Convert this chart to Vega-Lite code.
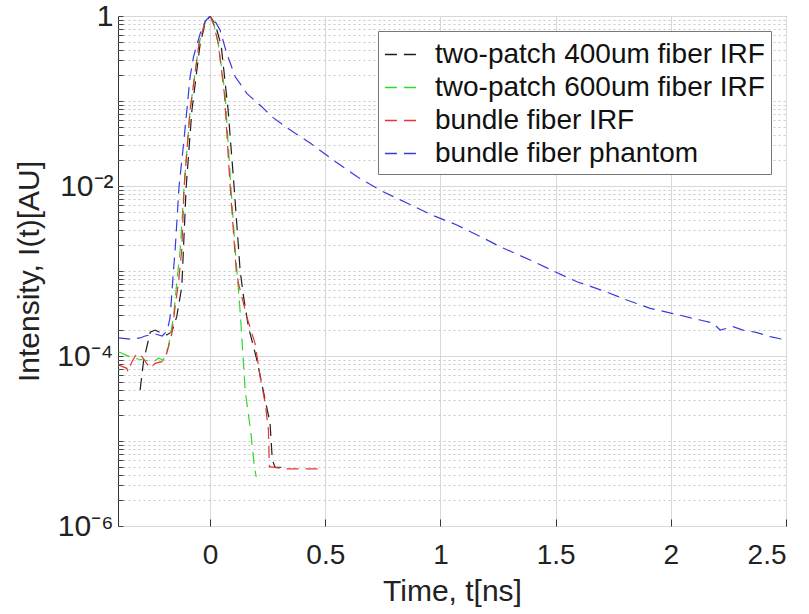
{
  "$schema": "https://vega.github.io/schema/vega-lite/v6.json",
  "width": 668,
  "height": 510,
  "autosize": {"type": "none"},
  "padding": {"left": 118, "top": 16, "right": 23, "bottom": 88},
  "background": "white",
  "config": {
    "font": "Liberation Sans",
    "view": {"stroke": "#333", "strokeWidth": 1},
    "axis": {"labelFont": "Liberation Sans", "titleFont": "Liberation Sans", "labelColor": "#222", "titleColor": "#222", "titleFontWeight": "normal", "domain": false}
  },
  "data": {"values": [
    {"s": "two-patch 400um fiber IRF", "t": -0.304, "I": 3.98e-5},
    {"s": "two-patch 400um fiber IRF", "t": -0.289, "I": 8.73e-5},
    {"s": "two-patch 400um fiber IRF", "t": -0.26, "I": 1.91e-4},
    {"s": "two-patch 400um fiber IRF", "t": -0.239, "I": 2.02e-4},
    {"s": "two-patch 400um fiber IRF", "t": -0.21, "I": 1.85e-4},
    {"s": "two-patch 400um fiber IRF", "t": -0.188, "I": 1.77e-4},
    {"s": "two-patch 400um fiber IRF", "t": -0.166, "I": 1.93e-4},
    {"s": "two-patch 400um fiber IRF", "t": -0.145, "I": 2.9e-4},
    {"s": "two-patch 400um fiber IRF", "t": -0.123, "I": 6.53e-4},
    {"s": "two-patch 400um fiber IRF", "t": -0.116, "I": 1.77e-3},
    {"s": "two-patch 400um fiber IRF", "t": -0.104, "I": 9.82e-3},
    {"s": "two-patch 400um fiber IRF", "t": -0.079, "I": 0.0783},
    {"s": "two-patch 400um fiber IRF", "t": -0.043, "I": 0.481},
    {"s": "two-patch 400um fiber IRF", "t": -0.02, "I": 0.85},
    {"s": "two-patch 400um fiber IRF", "t": 0, "I": 1},
    {"s": "two-patch 400um fiber IRF", "t": 0.022, "I": 0.8},
    {"s": "two-patch 400um fiber IRF", "t": 0.048, "I": 0.45},
    {"s": "two-patch 400um fiber IRF", "t": 0.078, "I": 0.0783},
    {"s": "two-patch 400um fiber IRF", "t": 0.104, "I": 9.82e-3},
    {"s": "two-patch 400um fiber IRF", "t": 0.13, "I": 1.03e-3},
    {"s": "two-patch 400um fiber IRF", "t": 0.145, "I": 4.99e-4},
    {"s": "two-patch 400um fiber IRF", "t": 0.166, "I": 2.21e-4},
    {"s": "two-patch 400um fiber IRF", "t": 0.203, "I": 8.97e-5},
    {"s": "two-patch 400um fiber IRF", "t": 0.239, "I": 3.03e-5},
    {"s": "two-patch 400um fiber IRF", "t": 0.26, "I": 1.63e-5},
    {"s": "two-patch 400um fiber IRF", "t": 0.27, "I": 5.97e-6},
    {"s": "two-patch 400um fiber IRF", "t": 0.282, "I": 4.91e-6},
    {"s": "two-patch 400um fiber IRF", "t": 0.326, "I": 4.91e-6},

    {"s": "two-patch 600um fiber IRF", "t": -0.398, "I": 1.12e-4},
    {"s": "two-patch 600um fiber IRF", "t": -0.333, "I": 9.4e-5},
    {"s": "two-patch 600um fiber IRF", "t": -0.289, "I": 8.97e-5},
    {"s": "two-patch 600um fiber IRF", "t": -0.246, "I": 8.57e-5},
    {"s": "two-patch 600um fiber IRF", "t": -0.224, "I": 9.4e-5},
    {"s": "two-patch 600um fiber IRF", "t": -0.203, "I": 8.97e-5},
    {"s": "two-patch 600um fiber IRF", "t": -0.181, "I": 1.29e-4},
    {"s": "two-patch 600um fiber IRF", "t": -0.159, "I": 2.9e-4},
    {"s": "two-patch 600um fiber IRF", "t": -0.145, "I": 7.16e-4},
    {"s": "two-patch 600um fiber IRF", "t": -0.13, "I": 1.77e-3},
    {"s": "two-patch 600um fiber IRF", "t": -0.113, "I": 9.82e-3},
    {"s": "two-patch 600um fiber IRF", "t": -0.087, "I": 0.0783},
    {"s": "two-patch 600um fiber IRF", "t": -0.048, "I": 0.481},
    {"s": "two-patch 600um fiber IRF", "t": -0.022, "I": 0.85},
    {"s": "two-patch 600um fiber IRF", "t": 0, "I": 1},
    {"s": "two-patch 600um fiber IRF", "t": 0.016, "I": 0.8},
    {"s": "two-patch 600um fiber IRF", "t": 0.035, "I": 0.481},
    {"s": "two-patch 600um fiber IRF", "t": 0.065, "I": 0.12},
    {"s": "two-patch 600um fiber IRF", "t": 0.09, "I": 9.82e-3},
    {"s": "two-patch 600um fiber IRF", "t": 0.109, "I": 1.77e-3},
    {"s": "two-patch 600um fiber IRF", "t": 0.132, "I": 2.9e-4},
    {"s": "two-patch 600um fiber IRF", "t": 0.141, "I": 1.18e-4},
    {"s": "two-patch 600um fiber IRF", "t": 0.152, "I": 3.98e-5},
    {"s": "two-patch 600um fiber IRF", "t": 0.177, "I": 1.23e-5},
    {"s": "two-patch 600um fiber IRF", "t": 0.192, "I": 4.99e-6},
    {"s": "two-patch 600um fiber IRF", "t": 0.2, "I": 3.77e-6},

    {"s": "bundle fiber IRF", "t": -0.398, "I": 7.83e-5},
    {"s": "bundle fiber IRF", "t": -0.38, "I": 7.5e-5},
    {"s": "bundle fiber IRF", "t": -0.362, "I": 7.16e-5},
    {"s": "bundle fiber IRF", "t": -0.356, "I": 6.53e-5},
    {"s": "bundle fiber IRF", "t": -0.34, "I": 8.5e-5},
    {"s": "bundle fiber IRF", "t": -0.318, "I": 1.08e-4},
    {"s": "bundle fiber IRF", "t": -0.296, "I": 9.82e-5},
    {"s": "bundle fiber IRF", "t": -0.26, "I": 7.16e-5},
    {"s": "bundle fiber IRF", "t": -0.239, "I": 8.2e-5},
    {"s": "bundle fiber IRF", "t": -0.21, "I": 8.57e-5},
    {"s": "bundle fiber IRF", "t": -0.188, "I": 1.08e-4},
    {"s": "bundle fiber IRF", "t": -0.166, "I": 1.85e-4},
    {"s": "bundle fiber IRF", "t": -0.152, "I": 3.8e-4},
    {"s": "bundle fiber IRF", "t": -0.138, "I": 7.16e-4},
    {"s": "bundle fiber IRF", "t": -0.123, "I": 1.77e-3},
    {"s": "bundle fiber IRF", "t": -0.113, "I": 9.82e-3},
    {"s": "bundle fiber IRF", "t": -0.087, "I": 0.0783},
    {"s": "bundle fiber IRF", "t": -0.048, "I": 0.481},
    {"s": "bundle fiber IRF", "t": -0.022, "I": 0.85},
    {"s": "bundle fiber IRF", "t": 0, "I": 1},
    {"s": "bundle fiber IRF", "t": 0.015, "I": 0.8},
    {"s": "bundle fiber IRF", "t": 0.035, "I": 0.481},
    {"s": "bundle fiber IRF", "t": 0.062, "I": 0.12},
    {"s": "bundle fiber IRF", "t": 0.087, "I": 9.82e-3},
    {"s": "bundle fiber IRF", "t": 0.113, "I": 1.03e-3},
    {"s": "bundle fiber IRF", "t": 0.123, "I": 7.16e-4},
    {"s": "bundle fiber IRF", "t": 0.159, "I": 2.9e-4},
    {"s": "bundle fiber IRF", "t": 0.181, "I": 1.85e-4},
    {"s": "bundle fiber IRF", "t": 0.195, "I": 1.41e-4},
    {"s": "bundle fiber IRF", "t": 0.217, "I": 5.7e-5},
    {"s": "bundle fiber IRF", "t": 0.239, "I": 2.78e-5},
    {"s": "bundle fiber IRF", "t": 0.253, "I": 1.35e-5},
    {"s": "bundle fiber IRF", "t": 0.257, "I": 4.99e-6},
    {"s": "bundle fiber IRF", "t": 0.326, "I": 4.69e-6},
    {"s": "bundle fiber IRF", "t": 0.473, "I": 4.69e-6},

    {"s": "bundle fiber phantom", "t": -0.399, "I": 1.63e-4},
    {"s": "bundle fiber phantom", "t": -0.347, "I": 1.58e-4},
    {"s": "bundle fiber phantom", "t": -0.304, "I": 1.63e-4},
    {"s": "bundle fiber phantom", "t": -0.282, "I": 1.72e-4},
    {"s": "bundle fiber phantom", "t": -0.239, "I": 1.82e-4},
    {"s": "bundle fiber phantom", "t": -0.208, "I": 1.72e-4},
    {"s": "bundle fiber phantom", "t": -0.187, "I": 1.97e-4},
    {"s": "bundle fiber phantom", "t": -0.174, "I": 2.8e-4},
    {"s": "bundle fiber phantom", "t": -0.159, "I": 1.03e-3},
    {"s": "bundle fiber phantom", "t": -0.152, "I": 1.77e-3},
    {"s": "bundle fiber phantom", "t": -0.135, "I": 9.82e-3},
    {"s": "bundle fiber phantom", "t": -0.115, "I": 0.0321},
    {"s": "bundle fiber phantom", "t": -0.101, "I": 0.0783},
    {"s": "bundle fiber phantom", "t": -0.087, "I": 0.193},
    {"s": "bundle fiber phantom", "t": -0.072, "I": 0.332},
    {"s": "bundle fiber phantom", "t": -0.043, "I": 0.625},
    {"s": "bundle fiber phantom", "t": -0.02, "I": 0.88},
    {"s": "bundle fiber phantom", "t": 0, "I": 1},
    {"s": "bundle fiber phantom", "t": 0.02, "I": 0.88},
    {"s": "bundle fiber phantom", "t": 0.043, "I": 0.684},
    {"s": "bundle fiber phantom", "t": 0.072, "I": 0.364},
    {"s": "bundle fiber phantom", "t": 0.109, "I": 0.193},
    {"s": "bundle fiber phantom", "t": 0.13, "I": 0.16},
    {"s": "bundle fiber phantom", "t": 0.159, "I": 0.123},
    {"s": "bundle fiber phantom", "t": 0.224, "I": 0.0857},
    {"s": "bundle fiber phantom", "t": 0.268, "I": 0.0654},
    {"s": "bundle fiber phantom", "t": 0.326, "I": 0.0499},
    {"s": "bundle fiber phantom", "t": 0.434, "I": 0.0321},
    {"s": "bundle fiber phantom", "t": 0.534, "I": 0.0202},
    {"s": "bundle fiber phantom", "t": 0.637, "I": 0.0129},
    {"s": "bundle fiber phantom", "t": 0.751, "I": 8.57e-3},
    {"s": "bundle fiber phantom", "t": 0.854, "I": 6.31e-3},
    {"s": "bundle fiber phantom", "t": 0.962, "I": 4.56e-3},
    {"s": "bundle fiber phantom", "t": 1.071, "I": 3.48e-3},
    {"s": "bundle fiber phantom", "t": 1.185, "I": 2.45e-3},
    {"s": "bundle fiber phantom", "t": 1.259, "I": 1.93e-3},
    {"s": "bundle fiber phantom", "t": 1.389, "I": 1.35e-3},
    {"s": "bundle fiber phantom", "t": 1.497, "I": 9.82e-4},
    {"s": "bundle fiber phantom", "t": 1.592, "I": 7.48e-4},
    {"s": "bundle fiber phantom", "t": 1.706, "I": 5.86e-4},
    {"s": "bundle fiber phantom", "t": 1.809, "I": 4.56e-4},
    {"s": "bundle fiber phantom", "t": 1.91, "I": 3.64e-4},
    {"s": "bundle fiber phantom", "t": 2.004, "I": 3.18e-4},
    {"s": "bundle fiber phantom", "t": 2.127, "I": 2.65e-4},
    {"s": "bundle fiber phantom", "t": 2.183, "I": 2.44e-4},
    {"s": "bundle fiber phantom", "t": 2.214, "I": 2.02e-4},
    {"s": "bundle fiber phantom", "t": 2.27, "I": 2.21e-4},
    {"s": "bundle fiber phantom", "t": 2.313, "I": 2.02e-4},
    {"s": "bundle fiber phantom", "t": 2.37, "I": 1.9e-4},
    {"s": "bundle fiber phantom", "t": 2.431, "I": 1.69e-4},
    {"s": "bundle fiber phantom", "t": 2.5, "I": 1.54e-4}
  ]},
  "mark": {"type": "line", "strokeWidth": 1.2, "strokeDash": [12, 7], "clip": true},
  "encoding": {
    "x": {
      "field": "t", "type": "quantitative",
      "scale": {"domain": [-0.4, 2.5], "nice": false, "zero": false},
      "axis": {
        "values": [0, 0.5, 1, 1.5, 2, 2.5], "format": "~g",
        "title": "Time, t[ns]", "labelFontSize": 28, "titleFontSize": 30,
        "tickSize": -7, "tickColor": "#333", "labelPadding": 22, "titlePadding": 7,
        "gridColor": "#d8d8d8", "labelOverlap": false
      }
    },
    "y": {
      "field": "I", "type": "quantitative",
      "scale": {"type": "log", "domain": [1e-6, 1], "nice": false},
      "axis": {
        "values": [1e-6,2e-6,3e-6,4e-6,5e-6,6e-6,7e-6,8e-6,9e-6,
                   1e-5,2e-5,3e-5,4e-5,5e-5,6e-5,7e-5,8e-5,9e-5,
                   1e-4,2e-4,3e-4,4e-4,5e-4,6e-4,7e-4,8e-4,9e-4,
                   1e-3,2e-3,3e-3,4e-3,5e-3,6e-3,7e-3,8e-3,9e-3,
                   0.01,0.02,0.03,0.04,0.05,0.06,0.07,0.08,0.09,
                   0.1,0.2,0.3,0.4,0.5,0.6,0.7,0.8,0.9,1],
        "labelExpr": "datum.value == 1 ? '1' : datum.value == 0.01 ? '10⁻²' : datum.value == 0.0001 ? '10⁻⁴' : datum.value == 0.000001 ? '10⁻⁶' : ''",
        "title": "Intensity, I(t)[AU]", "labelFontSize": 30, "titleFontSize": 30,
        "tickSize": -5, "tickColor": "#444", "labelPadding": 10, "titlePadding": 12,
        "labelOverlap": false,
        "gridColor": {"condition": {"test": "datum.value == 1 || datum.value == 0.01 || datum.value == 0.0001 || datum.value == 0.000001", "value": "#d8d8d8"}, "value": "#c8c8c8"},
        "gridDash": {"condition": {"test": "datum.value == 1 || datum.value == 0.01 || datum.value == 0.0001 || datum.value == 0.000001", "value": []}, "value": [2, 3]}
      }
    },
    "color": {
      "field": "s", "type": "nominal",
      "scale": {
        "domain": ["two-patch 400um fiber IRF", "two-patch 600um fiber IRF", "bundle fiber IRF", "bundle fiber phantom"],
        "range": ["#1e1e1e", "#2fd82f", "#e43434", "#3a3ae2"]
      },
      "legend": {
        "title": null, "orient": "top-right", "offset": 15,
        "fillColor": "white", "strokeColor": "#777", "padding": 6,
        "labelFontSize": 28, "labelFont": "Liberation Sans", "labelColor": "#111", "labelLimit": 1000,
        "symbolType": "stroke", "symbolSize": 1100, "symbolStrokeWidth": 1.6, "symbolOpacity": 1, "symbolDash": [12, 7],
        "rowPadding": 1, "labelOffset": 16
      }
    }
  }
}
